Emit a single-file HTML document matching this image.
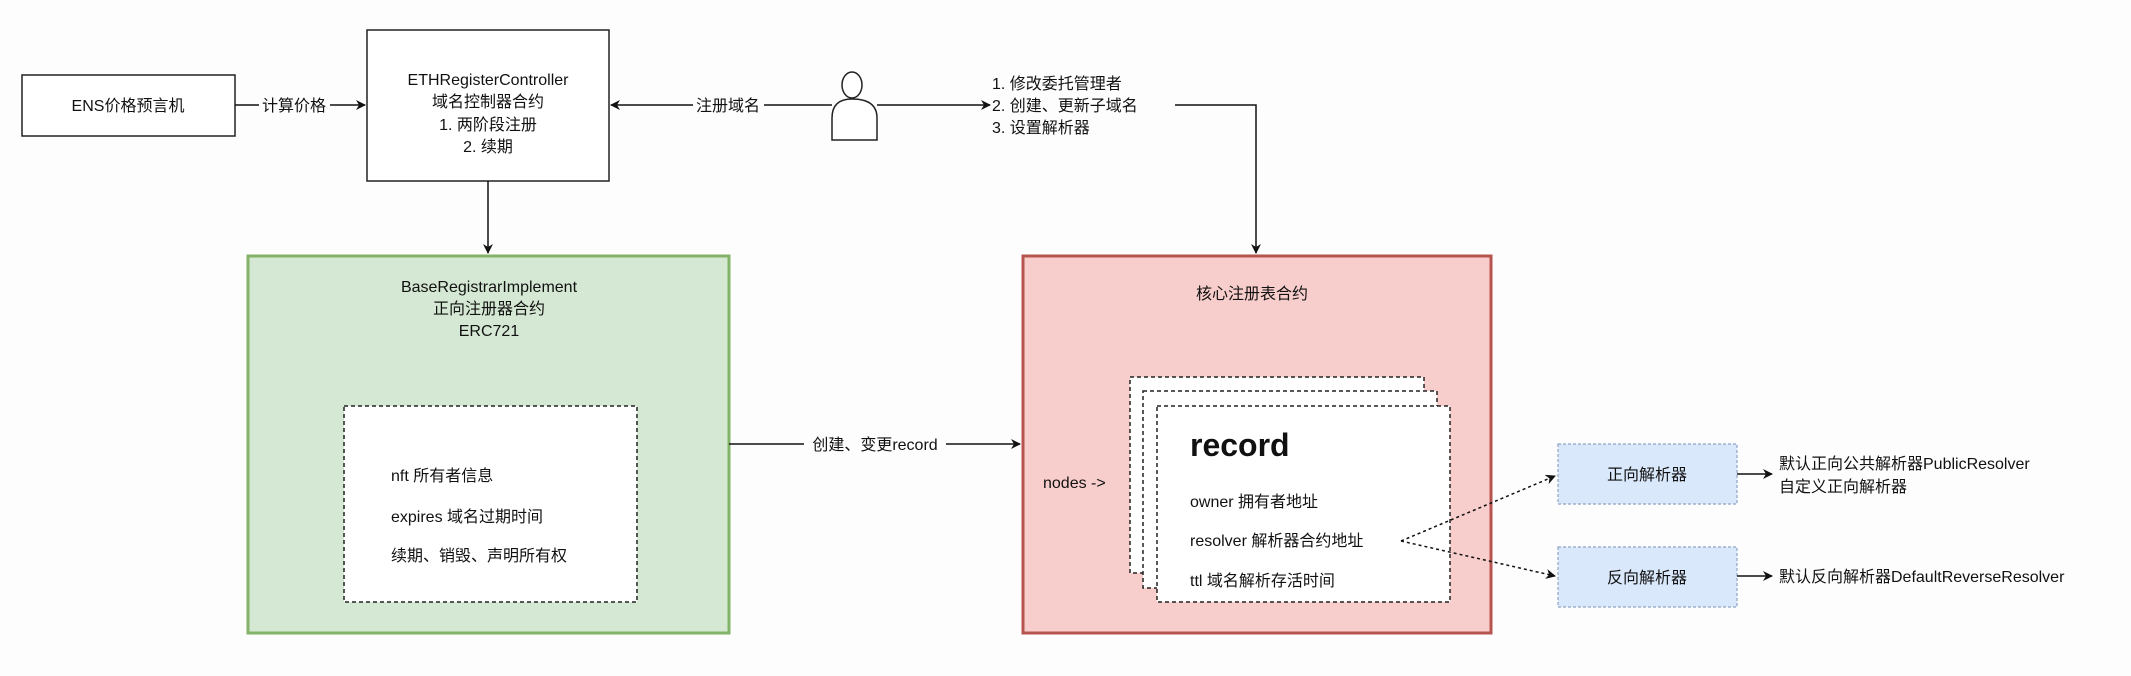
<!DOCTYPE html>
<html><head><meta charset="utf-8"><style>
html,body{margin:0;padding:0;background:#fdfdfd;}
svg text{font-family:"Liberation Sans","Noto Sans CJK SC",sans-serif;font-size:16px;fill:#111;}
</style></head><body>
<svg width="2131" height="671" viewBox="0 0 2131 671" xmlns="http://www.w3.org/2000/svg">
<defs>
<marker id="a" markerWidth="10" markerHeight="10" refX="9" refY="5" orient="auto" markerUnits="userSpaceOnUse"><path d="M0,0 L10,5 L0,10 L3,5 z" fill="#111"/></marker>
</defs>
<rect width="2131" height="671" fill="#fdfdfd"/>
<rect x="22" y="75" width="213" height="61" fill="#fff" stroke="#222" stroke-width="1.5"/>
<text x="128" y="111" text-anchor="middle">ENS价格预言机</text>
<rect x="367" y="30" width="242" height="151" fill="#fff" stroke="#222" stroke-width="1.5"/>
<text x="488" y="85" text-anchor="middle">ETHRegisterController</text>
<text x="488" y="107" text-anchor="middle">域名控制器合约</text>
<text x="488" y="130" text-anchor="middle">1. 两阶段注册</text>
<text x="488" y="152" text-anchor="middle">2. 续期</text>
<line x1="235" y1="105" x2="365" y2="105" stroke="#111" stroke-width="1.5" marker-end="url(#a)"/>
<rect x="259" y="95" width="71" height="20" fill="#fdfdfd"/>
<text x="294" y="111" text-anchor="middle">计算价格</text>
<line x1="832" y1="105" x2="611" y2="105" stroke="#111" stroke-width="1.5" marker-end="url(#a)"/>
<rect x="693" y="95" width="71" height="20" fill="#fdfdfd"/>
<text x="728" y="111" text-anchor="middle">注册域名</text>
<ellipse cx="852" cy="85" rx="10" ry="13" fill="#fff" stroke="#222" stroke-width="1.5"/>
<path d="M832,140 L832,118 Q832,99 852,99 Q877,99 877,118 L877,140 Z" fill="#fff" stroke="#222" stroke-width="1.5"/>
<line x1="877" y1="105" x2="990" y2="105" stroke="#111" stroke-width="1.5" marker-end="url(#a)"/>
<text x="992" y="89">1. 修改委托管理者</text>
<text x="992" y="111">2. 创建、更新子域名</text>
<text x="992" y="133">3. 设置解析器</text>
<polyline points="1175,105 1256,105 1256,253" fill="none" stroke="#111" stroke-width="1.5" marker-end="url(#a)"/>
<line x1="488" y1="181" x2="488" y2="253" stroke="#111" stroke-width="1.5" marker-end="url(#a)"/>
<rect x="248" y="256" width="481" height="377" fill="#d5e8d4" stroke="#82b366" stroke-width="3"/>
<text x="489" y="292" text-anchor="middle">BaseRegistrarImplement</text>
<text x="489" y="314" text-anchor="middle">正向注册器合约</text>
<text x="489" y="336" text-anchor="middle">ERC721</text>
<rect x="344" y="406" width="293" height="196" fill="#fff" stroke="#222" stroke-width="1.5" stroke-dasharray="4,3"/>
<text x="391" y="481">nft 所有者信息</text>
<text x="391" y="522">expires 域名过期时间</text>
<text x="391" y="561">续期、销毁、声明所有权</text>
<line x1="729" y1="444" x2="1020" y2="444" stroke="#111" stroke-width="1.5" marker-end="url(#a)"/>
<rect x="804" y="434" width="142" height="20" fill="#fdfdfd"/>
<text x="875" y="450" text-anchor="middle">创建、变更record</text>
<rect x="1023" y="256" width="468" height="377" fill="#f8cecc" stroke="#b85450" stroke-width="3"/>
<text x="1252" y="299" text-anchor="middle">核心注册表合约</text>
<text x="1043" y="488">nodes -&gt;</text>
<rect x="1130" y="377" width="294" height="196" fill="#fff" stroke="#222" stroke-width="1.5" stroke-dasharray="4,3"/>
<rect x="1143" y="391" width="294" height="197" fill="#fff" stroke="#222" stroke-width="1.5" stroke-dasharray="4,3"/>
<rect x="1157" y="406" width="293" height="196" fill="#fff" stroke="#222" stroke-width="1.5" stroke-dasharray="4,3"/>
<text x="1190" y="456" style="font-size:32px;font-weight:bold">record</text>
<text x="1190" y="507">owner 拥有者地址</text>
<text x="1190" y="546">resolver 解析器合约地址</text>
<text x="1190" y="586">ttl 域名解析存活时间</text>
<line x1="1401" y1="541" x2="1555" y2="476" stroke="#111" stroke-width="1.5" stroke-dasharray="3,3" marker-end="url(#a)"/>
<line x1="1401" y1="541" x2="1555" y2="576" stroke="#111" stroke-width="1.5" stroke-dasharray="3,3" marker-end="url(#a)"/>
<rect x="1558" y="444" width="179" height="60" fill="#dae8fc" stroke="#8fa3c4" stroke-width="1.2" stroke-dasharray="3,2"/>
<text x="1647" y="480" text-anchor="middle">正向解析器</text>
<rect x="1558" y="547" width="179" height="60" fill="#dae8fc" stroke="#8fa3c4" stroke-width="1.2" stroke-dasharray="3,2"/>
<text x="1647" y="583" text-anchor="middle">反向解析器</text>
<line x1="1737" y1="474" x2="1772" y2="474" stroke="#111" stroke-width="1.5" marker-end="url(#a)"/>
<line x1="1737" y1="576" x2="1772" y2="576" stroke="#111" stroke-width="1.5" marker-end="url(#a)"/>
<text x="1779" y="469">默认正向公共解析器PublicResolver</text>
<text x="1779" y="492">自定义正向解析器</text>
<text x="1779" y="582">默认反向解析器DefaultReverseResolver</text>
</svg>
</body></html>
